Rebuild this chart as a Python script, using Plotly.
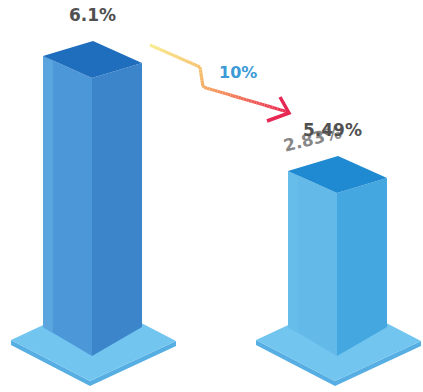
import plotly.graph_objects as go
import numpy as np

# ---- data ----
categories = ["Before", "After"]
values = [6.1, 5.49]
value_labels = ["6.1%", "5.49%"]
ghost_label = "2.83%"
change_label = "10%"

# ---- styling / geometry constants ----
W, H = 423, 392
PPU = 188.5                 # pixels per value unit
Y_TOP = 6.1 + 78 / PPU
Y_BOT = Y_TOP - H / PPU
BASE = 4.625                # baseline value of bar bottoms
bar_x = [92, 337]           # front-edge x (pixel units on x axis)
WL, WR = 49, 50
TOP_RL, TOP_RR = 22, 15
BOT_RL, BOT_RR = 29, 29
face_colors = [
    dict(left="#4C97D7", strip="#5AA5DE", right="#3D85CA", top="#1F6DBD"),
    dict(left="#63BAE9", strip="#66BDEA", right="#44A7DF", top="#1F89D1"),
]
PLATE_TOP = "#71C5EF"
PLATE_SIDE = "#56AEE3"
FONT = "DejaVu Sans"

def v(px):  # pixel offset -> value offset
    return px / PPU

fig = go.Figure()

def poly(xs, ys, color, yaxis="y"):
    fig.add_trace(go.Scatter(x=list(xs) + [xs[0]], y=list(ys) + [ys[0]], mode="lines",
                             fill="toself", fillcolor=color, line=dict(width=0, color=color),
                             hoverinfo="skip", showlegend=False, yaxis=yaxis))

for i, (cat, val) in enumerate(zip(categories, values)):
    cx = bar_x[i]
    c = face_colors[i]
    # plate
    L = (cx - 81, BASE + v(16))
    F = (cx - 2, BASE - v(25))
    R = (cx + 84, BASE + v(15))
    B = (L[0] + R[0] - F[0], L[1] + R[1] - F[1])
    t = v(5)
    poly([L[0], F[0], R[0], R[0], F[0], L[0]],
         [L[1], F[1], R[1], R[1] - t, F[1] - t, L[1] - t], PLATE_SIDE)
    poly([L[0], F[0], R[0], B[0]], [L[1], F[1], R[1], B[1]], PLATE_TOP)
    # left face
    poly([cx - WL, cx, cx, cx - WL],
         [BASE + v(BOT_RL), BASE, val, val + v(TOP_RL)], c["left"])
    # light strip near left edge
    sw = 10
    poly([cx - WL, cx - WL + sw, cx - WL + sw, cx - WL],
         [BASE + v(BOT_RL), BASE + v(BOT_RL * (WL - sw) / WL),
          val + v(TOP_RL * (WL - sw) / WL), val + v(TOP_RL)], c["strip"])
    # right face
    poly([cx, cx + WR, cx + WR, cx],
         [BASE, BASE + v(BOT_RR), val + v(TOP_RR), val], c["right"])
    # top
    tl = (cx - WL, val + v(TOP_RL))
    tr = (cx + WR, val + v(TOP_RR))
    tb = (tl[0] + tr[0] - cx, tl[1] + tr[1] - val)
    poly([cx, tl[0], tb[0], tr[0]], [val, tl[1], tb[1], tr[1]], c["top"])

# ghost overlapping label (drawn beneath the real label)
fig.add_annotation(x=312, y=139, yref="y2", text=f"<b>{ghost_label}</b>", showarrow=False,
                   textangle=-14, opacity=0.8,
                   font=dict(family=FONT, size=17, color="#6A6A6A"))

for i, val in enumerate(values):
    fig.add_annotation(x=bar_x[i], y=val, text=f"<b>{value_labels[i]}</b>", showarrow=False,
                       yshift=63, xshift=(0 if i == 0 else -5),
                       font=dict(family=FONT, size=17, color="#505050"))

# gradient arrow (pixel coordinates on overlay axis)
path = np.array([(150, 45), (200, 67), (203, 87), (288, 112)], dtype=float)
seg = np.diff(path, axis=0)
lens = np.hypot(seg[:, 0], seg[:, 1])
cum = np.concatenate([[0], np.cumsum(lens)])
total = cum[-1]
stops = [(0.0, (250, 236, 142)), (0.4, (246, 186, 104)), (0.65, (243, 125, 88)), (1.0, (232, 40, 84))]

def col(f):
    for (a, ca), (b, cb) in zip(stops[:-1], stops[1:]):
        if f <= b:
            u = (f - a) / (b - a)
            return "rgb(%d,%d,%d)" % tuple(int(ca[k] + (cb[k] - ca[k]) * u) for k in range(3))
    return "rgb(%d,%d,%d)" % stops[-1][1]

def pt(s):
    k = min(np.searchsorted(cum, s, side="right") - 1, len(seg) - 1)
    u = (s - cum[k]) / lens[k]
    return path[k] + seg[k] * u

N = 60
for j in range(N):
    s0, s1 = total * j / N, total * (j + 1) / N
    p0, p1 = pt(s0), pt(s1)
    fig.add_trace(go.Scatter(x=[p0[0], p1[0]], y=[p0[1], p1[1]], mode="lines", yaxis="y2",
                             line=dict(color=col((s0 + s1) / 2 / total), width=3.2),
                             hoverinfo="skip", showlegend=False))
fig.add_trace(go.Scatter(x=[280, 289, 267], y=[97, 113, 121], mode="lines", yaxis="y2",
                         line=dict(color="rgb(232,40,84)", width=3.5),
                         hoverinfo="skip", showlegend=False))

fig.add_annotation(x=238, y=72, yref="y2", text=f"<b>{change_label}</b>", showarrow=False,
                   font=dict(family=FONT, size=16, color="#3C9AD6"))

fig.update_layout(
    width=W, height=H, margin=dict(l=0, r=0, t=0, b=0),
    paper_bgcolor="white", plot_bgcolor="white",
    xaxis=dict(range=[0, W], visible=False, fixedrange=True),
    yaxis=dict(range=[Y_BOT, Y_TOP], visible=False, fixedrange=True),
    yaxis2=dict(range=[H, 0], overlaying="y", visible=False, fixedrange=True),
    showlegend=False,
)
fig.write_html("out.html")
